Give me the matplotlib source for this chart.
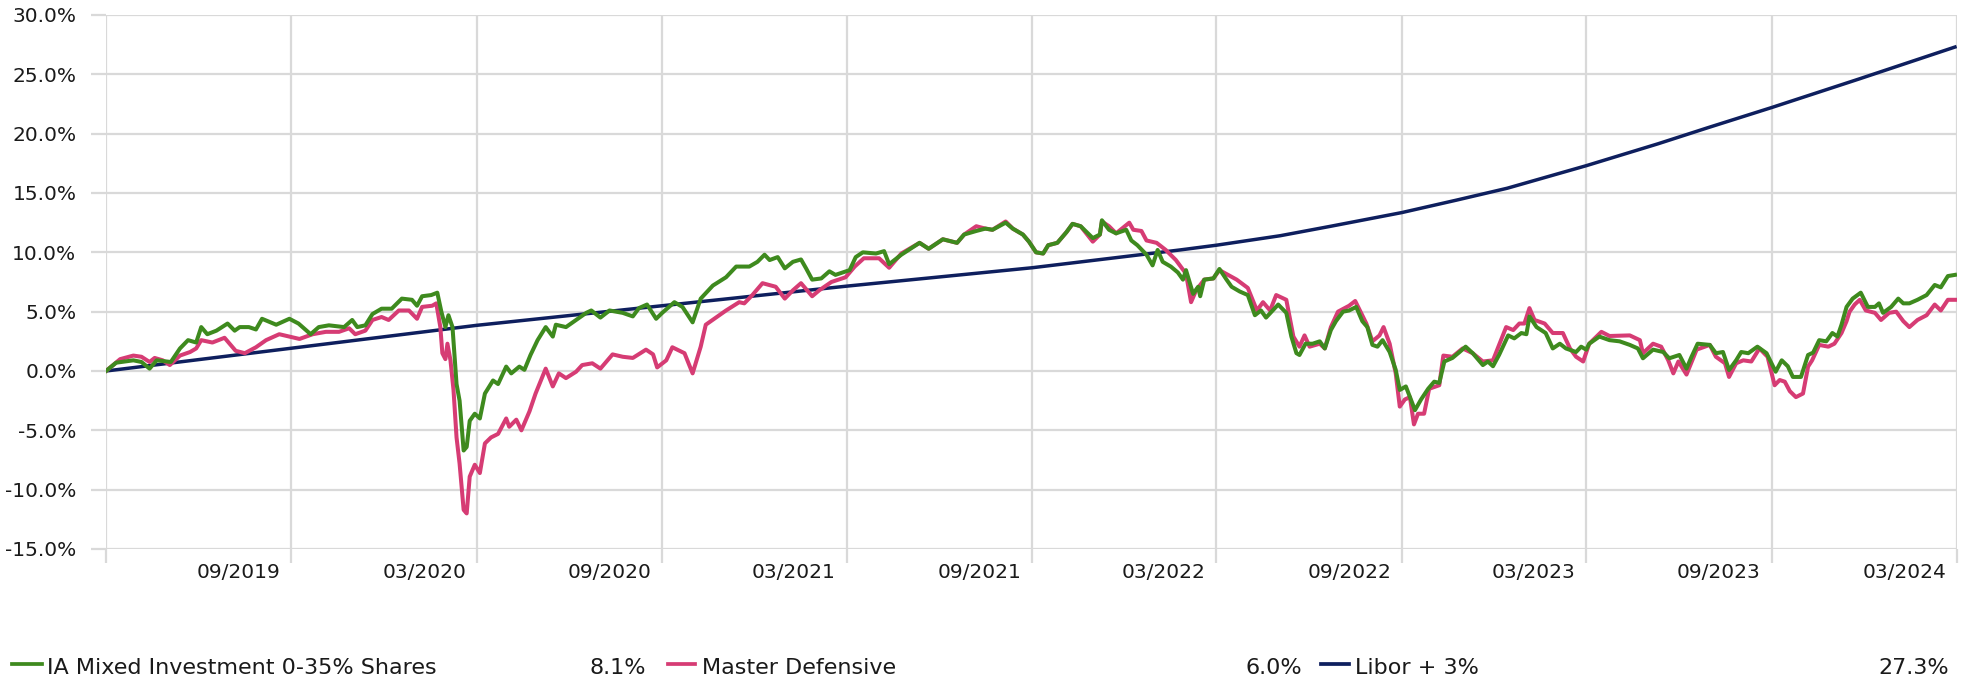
import numpy as np
import pandas as pd
import matplotlib
matplotlib.use("Agg")
import matplotlib.pyplot as plt
from matplotlib.lines import Line2D

# x values are days since 2019-03-31, y values are cumulative return in %
start = pd.Timestamp("2019-03-31")
end = pd.Timestamp("2024-03-31")

mixed_days = [0, 10, 27, 35, 43, 50, 64, 73, 81, 89, 94, 100, 109, 120, 127, 132, 141, 148, 154, 168,
              181, 190, 202, 210, 220, 235, 243, 248, 256, 263, 272, 282, 292, 302, 307, 312, 321, 327, 331, 335,
              338, 342, 346, 349, 353, 356, 359, 364, 369, 374, 382, 387,
              395, 400, 408, 413, 419, 426, 434, 441, 444, 454, 464, 474, 479, 488, 497, 510, 520, 526, 534, 543,
              549, 561, 569, 579, 587, 599, 612, 622, 635, 643, 650, 655, 663, 670, 678, 686, 691, 697, 706, 714,
              720, 734, 740, 747, 760, 768, 773, 785,
              803, 812, 826, 840, 847, 859, 868, 875, 888, 895, 905, 911, 918, 925, 930, 939, 948, 954, 962, 974,
              981, 983, 990, 997, 1007, 1012, 1018, 1027, 1033, 1038, 1043, 1051, 1058, 1063, 1066, 1073, 1078, 1080,
              1084, 1093, 1099, 1106, 1111, 1119, 1127, 1134, 1140, 1145, 1157, 1165, 1170, 1175, 1178,
              1184, 1191, 1198, 1203, 1209, 1214, 1221, 1227, 1234, 1240, 1245, 1250, 1255, 1260, 1267, 1273, 1277,
              1283, 1292, 1298, 1305, 1311, 1316, 1321, 1329, 1336, 1342, 1349, 1359, 1364, 1369, 1375, 1384, 1390,
              1397, 1402, 1405, 1412, 1421, 1428, 1435, 1441, 1451, 1456, 1461,
              1464, 1474, 1484, 1494, 1504, 1512, 1517, 1527, 1537, 1543, 1553, 1560, 1565, 1571, 1583, 1589, 1596,
              1602, 1609, 1614, 1621, 1630, 1639, 1648, 1654, 1660, 1665, 1673, 1680, 1685, 1691, 1698, 1704, 1709,
              1713, 1718, 1724, 1732, 1739, 1746, 1750, 1754, 1762, 1769, 1774, 1780, 1788, 1797, 1805, 1811, 1818,
              1825]
mixed_vals = [0.0, 0.7, 0.9, 0.76, 0.2, 0.9, 0.76, 1.9, 2.6, 2.4, 3.7, 3.1, 3.4, 4.0, 3.4, 3.7, 3.7, 3.5, 4.4, 3.9,
              4.4, 4.0, 3.1, 3.7, 3.85, 3.7, 4.3, 3.7, 3.85, 4.8, 5.25, 5.25, 6.1, 6.0, 5.5, 6.3, 6.4, 6.6, 5.0, 3.7,
              4.7, 3.7, -1.1, -2.5, -6.7, -6.4, -4.2, -3.6, -4.0, -1.9, -0.8, -1.1,
              0.37, -0.2, 0.37, 0.1, 1.35, 2.6, 3.7, 2.9, 3.9, 3.7, 4.3, 4.9, 5.1, 4.5, 5.1, 4.9, 4.6, 5.3, 5.6, 4.4,
              4.9, 5.8, 5.4, 4.1, 6.1, 7.2, 7.9, 8.8, 8.8, 9.2, 9.8, 9.35, 9.6, 8.65, 9.2, 9.4, 8.65, 7.7, 7.8, 8.4,
              8.1, 8.5, 9.6, 10.0, 9.9, 10.1, 9.0, 9.8,
              10.8, 10.3, 11.1, 10.8, 11.5, 11.8, 12.0, 11.9, 12.5, 12.0, 11.5, 10.9, 10.0, 9.9, 10.6, 10.8, 11.7, 12.4, 12.2, 11.2,
              11.5, 12.7, 11.9, 11.6, 11.9, 11.0, 10.6, 9.8, 8.9, 10.2, 9.2, 8.8, 8.3, 7.7, 8.5, 6.5, 7.1, 6.3,
              7.7, 7.8, 8.6, 7.7, 7.1, 6.7, 6.4, 4.7, 5.1, 4.5, 5.6, 4.9, 2.9, 1.5, 1.35,
              2.3, 2.3, 2.5, 1.9, 3.45, 4.2, 5.0, 5.1, 5.4, 4.2, 3.7, 2.2, 2.05, 2.6, 1.6, 0.1, -1.6,
              -1.3, -3.3, -2.4, -1.5, -0.9, -1.0, 0.8, 1.1, 1.6, 2.05, 1.5, 0.5, 0.8, 0.4, 1.35, 3.0, 2.75,
              3.2, 3.1, 4.6, 3.7, 3.2, 1.9, 2.3, 1.9, 1.6, 2.05, 1.8,
              2.3, 2.9, 2.6, 2.5, 2.2, 1.9, 1.07, 1.8, 1.6, 1.07, 1.35, 0.2, 1.2, 2.3, 2.2, 1.5, 1.6,
              0.08, 0.9, 1.6, 1.5, 2.05, 1.5, -0.06, 0.9, 0.4, -0.5, -0.5, 1.35, 1.55, 2.6, 2.5, 3.2, 2.9,
              3.9, 5.4, 6.1, 6.6, 5.4, 5.4, 5.7, 4.9, 5.4, 6.1, 5.7, 5.7, 6.0, 6.4, 7.25, 7.05, 8.0,
              8.1]

defensive_days = [0, 14, 27, 35, 43, 48, 56, 63, 73, 83, 89, 94, 105, 117, 122, 128, 137, 148, 158, 171,
                  181, 191, 204, 217, 230, 240, 246, 256, 263, 272, 279, 289, 299, 307, 312, 322, 326, 330, 332, 335,
                  337, 340, 343, 346, 349, 353, 356, 359, 364, 369, 374, 380, 387,
                  395, 398, 405, 410, 418, 424, 434, 441, 447, 454, 464, 470, 480, 488, 500, 510, 520, 533, 540, 544,
                  553, 559, 571, 579, 587, 592, 602, 612, 625, 630, 638, 648, 661, 670, 678, 686, 697, 704, 716, 730,
                  739, 748, 763, 773, 785,
                  803, 812, 826, 840, 847, 859, 868, 875, 888, 895, 905, 911, 918, 925, 930, 939, 948, 954, 962, 974,
                  981, 983, 990, 997, 1010, 1014, 1022, 1027, 1037, 1046, 1056, 1066, 1071, 1076, 1084, 1093, 1099, 1116,
                  1127, 1136, 1142, 1149, 1155, 1165, 1172, 1178,
                  1183, 1188, 1198, 1203, 1209, 1216, 1227, 1233, 1244, 1250, 1257, 1261, 1267, 1273, 1277, 1282, 1287,
                  1291, 1295, 1301, 1306, 1316, 1320, 1329, 1339, 1349, 1359, 1369, 1375, 1382, 1389, 1395, 1400, 1405,
                  1410, 1420, 1428, 1438, 1445, 1451, 1458, 1464, 1476, 1484, 1504, 1514, 1517, 1527, 1535, 1542, 1547,
                  1552, 1560, 1570, 1583,
                  1589, 1598, 1602, 1609, 1616, 1624, 1632, 1640, 1647, 1652, 1657, 1662, 1668, 1675, 1680, 1684, 1691,
                  1700, 1706, 1713, 1718, 1721, 1726, 1731, 1737, 1746, 1752, 1760, 1767, 1774, 1780, 1788, 1797, 1805,
                  1811, 1818, 1825]
defensive_vals = [0.0, 1.0, 1.3, 1.2, 0.76, 1.1, 0.9, 0.5, 1.3, 1.6, 1.9, 2.6, 2.4, 2.8, 2.3, 1.7, 1.5, 2.0, 2.6, 3.1,
                  2.9, 2.7, 3.1, 3.3, 3.3, 3.6, 3.1, 3.4, 4.3, 4.55, 4.3, 5.1, 5.1, 4.4, 5.4, 5.5, 5.7, 3.7, 1.5, 1.0,
                  2.3, 0.9, -1.6, -5.6, -7.8, -11.7, -12.0, -8.9, -7.9, -8.6, -6.1, -5.6, -5.3,
                  -4.0, -4.7, -4.1, -5.0, -3.4, -1.9, 0.2, -1.3, -0.2, -0.6, -0.06, 0.5, 0.65, 0.2, 1.4, 1.2, 1.1, 1.8, 1.4, 0.3,
                  0.9, 2.0, 1.5, -0.2, 2.05, 3.9, 4.5, 5.1, 5.8, 5.7, 6.4, 7.4, 7.1, 6.1, 6.8, 7.4, 6.3, 6.8, 7.5, 7.9,
                  8.8, 9.5, 9.5, 8.7, 9.9,
                  10.8, 10.3, 11.1, 10.8, 11.5, 12.2, 12.0, 11.9, 12.6, 12.0, 11.5, 10.9, 10.0, 9.9, 10.6, 10.8, 11.7, 12.4, 12.2, 10.9,
                  11.5, 12.6, 12.2, 11.6, 12.5, 11.9, 11.8, 11.0, 10.8, 10.2, 9.35, 8.2, 5.8, 6.8, 7.7, 7.8, 8.5, 7.7,
                  7.0, 5.1, 5.8, 5.1, 6.4, 6.0, 2.9, 2.05,
                  3.0, 2.05, 2.3, 1.9, 3.7, 5.0, 5.5, 5.9, 4.0, 2.5, 3.0, 3.7, 2.3, -0.2, -3.0, -2.4, -2.2,
                  -4.5, -3.6, -3.6, -1.5, -1.2, 1.3, 1.2, 1.9, 1.5, 0.8, 0.9, 2.2, 3.7, 3.45, 4.0, 4.0, 5.3,
                  4.3, 4.0, 3.2, 3.2, 1.9, 1.2, 0.8, 2.3, 3.3, 2.95, 3.0, 2.6, 1.5, 2.3, 2.05, 0.9, -0.2,
                  0.8, -0.3, 1.8, 2.2,
                  1.2, 0.65, -0.5, 0.65, 0.9, 0.8, 1.9, 1.2, -1.2, -0.76, -0.9, -1.7, -2.2, -1.9, 0.37, 0.9, 2.2,
                  2.05, 2.3, 3.2, 4.2, 5.0, 5.6, 6.0, 5.1, 4.9, 4.3, 4.9, 5.0, 4.2, 3.7, 4.3, 4.7, 5.6,
                  5.1, 6.0, 6.0]

libor_days = [0, 183, 366, 549, 731, 914, 1060, 1096, 1159, 1209, 1279, 1333, 1383, 1461, 1532, 1581, 1644,
              1730, 1825]
libor_vals = [0.0, 1.92, 3.85, 5.5, 7.15, 8.7, 10.2, 10.6, 11.4, 12.2, 13.35, 14.4, 15.4, 17.3, 19.15, 20.5, 22.2,
              24.6, 27.3]

series_names = ["IA Mixed Investment 0-35% Shares", "Master Defensive", "Libor + 3%"]
series_final = ["8.1%", "6.0%", "27.3%"]
series_colors = ["#3e8a1e", "#d63c74", "#0e1f5e"]

x_labels = ["09/2019", "03/2020", "09/2020", "03/2021", "09/2021",
            "03/2022", "09/2022", "03/2023", "09/2023", "03/2024"]
y_ticks = np.arange(-15, 31, 5)

GRID = "#d9d9d9"
TXT = "#1a1a1a"
FS = 14.5


def to_dates(days):
    return start + pd.to_timedelta(days, unit="D")


fig = plt.figure(figsize=(19.75, 6.81), dpi=100)
ax = fig.add_axes([106 / 1975, 1 - 549 / 681, (1957 - 106) / 1975, (549 - 15) / 681])

ax.plot(to_dates(libor_days), libor_vals, color=series_colors[2], lw=2.5, zorder=3)
ax.plot(to_dates(defensive_days), defensive_vals, color=series_colors[1], lw=2.9, zorder=4)
ax.plot(to_dates(mixed_days), mixed_vals, color=series_colors[0], lw=2.9, zorder=5)

ax.set_xlim(start, end)
ax.set_ylim(-15, 30)

# gridlines sit at month ends, labels are drawn a bit to the left of them
grid_dates = [pd.to_datetime(s, format="%m/%Y") + pd.offsets.MonthEnd(0) for s in x_labels]
ax.set_xticks([start] + grid_dates)
ax.set_xticklabels([""] * (len(grid_dates) + 1))
ax.set_xticks([d - pd.Timedelta(days=52) for d in grid_dates], minor=True)
ax.set_xticklabels(x_labels, minor=True)
ax.tick_params(axis="x", which="major", length=10, width=1.6, color=GRID)
ax.tick_params(axis="x", which="minor", length=0, pad=10, labelsize=FS, labelcolor=TXT)

ax.set_yticks(y_ticks)
ax.set_yticklabels([f"{v:.1f}%" for v in y_ticks])
ax.tick_params(axis="y", length=10.8, width=1.6, color=GRID, pad=10.5, labelsize=FS, labelcolor=TXT)

ax.grid(True, which="major", color=GRID, lw=1.6)
ax.set_axisbelow(True)
for s in ax.spines.values():
    s.set_visible(False)

# legend row at the bottom
line_y = 1 - 663.5 / 681
base_y = 1 - 674.5 / 681
cols = [(12, 42, 47, 646), (668, 695, 702, 1302), (1321, 1349, 1355, 1949)]
for (l0, l1, tx, vx), name, val, c in zip(cols, series_names, series_final, series_colors):
    fig.add_artist(Line2D([l0 / 1975, l1 / 1975], [line_y, line_y], color=c, lw=2.7,
                          transform=fig.transFigure))
    fig.text(tx / 1975, base_y, name, fontsize=16, color=TXT, va="baseline", ha="left")
    fig.text(vx / 1975, base_y, val, fontsize=16, color=TXT, va="baseline", ha="right")

fig.savefig("out.png", dpi=100)
